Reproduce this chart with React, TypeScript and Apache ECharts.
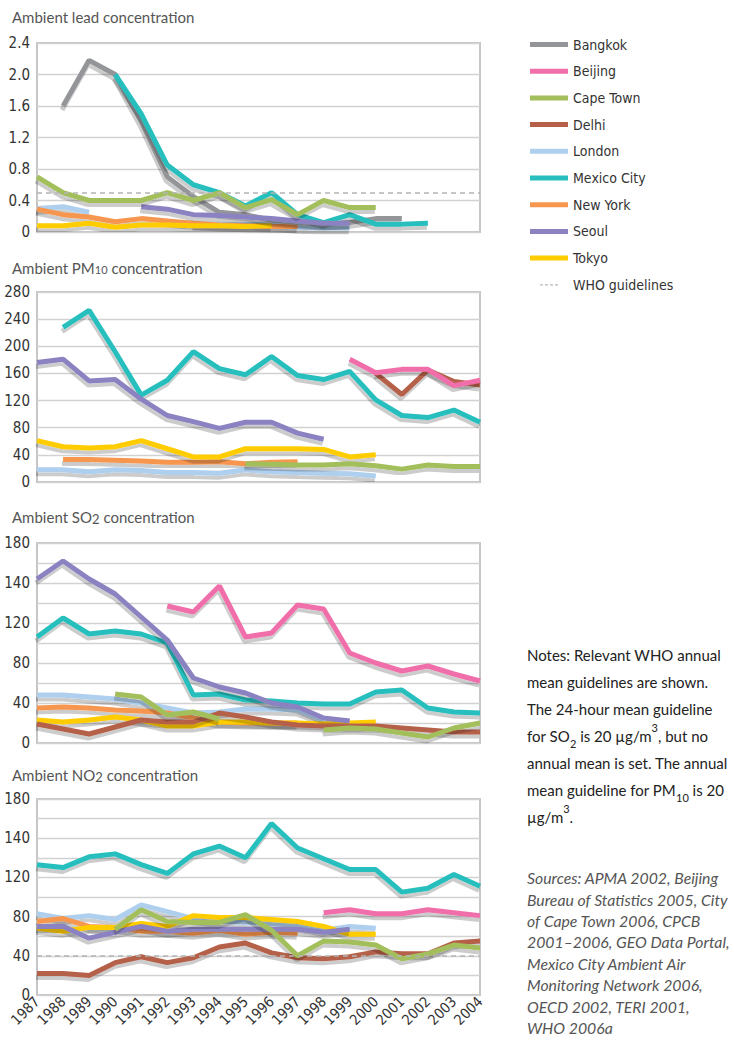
import React, { useEffect, useRef } from "react";
import * as echarts from "echarts";

const years = ["1987","1988","1989","1990","1991","1992","1993","1994","1995","1996","1997","1998","1999","2000","2001","2002","2003","2004"];
const N = null;

const cities = ["Bangkok","Beijing","Cape Town","Delhi","London","Mexico City","New York","Seoul","Tokyo"];
const cityColors: Record<string,string> = {
  "Bangkok": "#939598",
  "Beijing": "#f06ea9",
  "Cape Town": "#a3bf5c",
  "Delhi": "#b5614a",
  "London": "#aecfee",
  "Mexico City": "#26bfbd",
  "New York": "#f7964f",
  "Seoul": "#8b83c1",
  "Tokyo": "#ffcc00",
};
const drawOrder = ["London","New York","Tokyo","Bangkok","Mexico City","Seoul","Delhi","Beijing","Cape Town"];

// Lead (µg/m3)
const leadBangkok = [N,1.6,2.18,2.0,1.4,0.7,0.45,0.25,0.22,0.15,0.12,0.1,0.12,0.17,0.17,N,N,N];
const leadMexico = [N,N,N,2.0,1.5,0.85,0.6,0.5,0.33,0.5,0.22,0.12,0.22,0.1,0.1,0.11,N,N];
const leadCapeTown = [0.7,0.5,0.4,0.4,0.4,0.5,0.4,0.5,0.31,0.41,0.22,0.4,0.31,0.31,N,N,N,N];
const leadLondon = [0.3,0.32,0.25,N,N,N,0.1,0.1,0.1,0.09,0.06,0.05,0.05,N,N,N,N,N];
const leadNewYork = [0.29,0.22,0.19,0.13,0.17,0.14,0.11,0.09,0.08,0.07,0.07,N,N,N,N,N,N,N];
const leadSeoul = [N,N,N,N,0.32,0.29,0.22,0.21,0.19,0.17,0.14,0.11,0.11,N,N,N,N,N];
const leadTokyo = [0.08,0.08,0.11,0.06,0.09,0.09,0.08,0.08,0.07,0.08,N,N,N,N,N,N,N,N];
const leadWHO = 0.5;

// PM10
const pmMexico = [N,228,253,192,128,150,192,167,158,185,157,151,163,121,98,95,106,88];
const pmSeoul = [176,181,149,151,122,98,89,79,88,88,72,63,N,N,N,N,N,N];
const pmBeijing = [N,N,N,N,N,N,N,N,N,N,N,N,181,161,166,166,142,150];
const pmDelhi = [N,N,N,N,N,N,N,N,N,N,N,N,N,160,129,165,148,143];
const pmTokyo = [61,52,50,52,61,49,37,37,49,49,49,48,37,40,N,N,N,N];
const pmNewYork = [N,33,33,32,31,29,29,30,27,29,30,N,N,N,N,N,N,N];
const pmCapeTown = [N,N,N,N,N,N,N,N,27,26,25,25,27,24,19,25,23,23];
const pmLondon = [18,18,15,18,17,14,14,13,18,15,14,13,12,9,N,N,N,N];

// SO2
const so2Seoul = [164,182,164,149,126,103,65,56,50,40,36,25,22,N,N,N,N,N];
const so2Mexico = [106,125,109,112,109,100,48,49,43,42,40,39,39,51,53,35,31,30];
const so2Beijing = [N,N,N,N,N,137,131,157,106,110,138,134,90,80,72,77,69,62];
const so2London = [48,48,46,44,40,35,30,31,34,34,33,23,N,N,N,N,N,N];
const so2CapeTown = [N,N,N,49,46,28,31,24,N,N,N,13,15,14,10,6,15,20];
const so2NewYork = [35,36,35,33,32,30,25,21,20,20,20,N,N,N,N,N,N,N];
const so2Tokyo = [23,21,23,26,23,17,17,21,21,20,20,19,20,21,N,N,N,N];
const so2Delhi = [19,14,9,16,23,21,21,30,26,21,18,17,17,17,15,13,11,11];

// NO2
const no2Mexico = [133,130,141,144,133,124,144,152,140,175,150,139,128,128,105,109,123,111];
const no2Beijing = [N,N,N,N,N,N,N,N,N,N,N,84,87,83,83,87,84,81];
const no2Delhi = [22,22,20,33,39,33,38,49,53,43,38,37,39,44,42,42,53,55];
const no2CapeTown = [N,N,N,67,87,75,74,74,82,66,40,55,54,51,37,42,51,48];
const no2London = [83,78,81,77,92,85,78,75,74,73,71,66,70,68,N,N,N,N];
const no2NewYork = [75,78,70,69,65,65,63,66,62,64,63,N,N,N,N,N,N,N];
const no2Tokyo = [68,65,69,69,73,70,81,79,79,77,75,70,62,62,N,N,N,N];
const no2Seoul = [70,70,58,64,70,65,67,67,67,67,67,64,67,N,N,N,N,N];
const no2WHO = 40;

const FONT_C = '"Liberation Sans Narrow","DejaVu Sans Condensed","Roboto Condensed",sans-serif';
const FONT_T = 'Lato,"Open Sans",sans-serif';

const panels = [
  {
    title: "Ambient lead concentration",
    top: 43, height: 189, max: 2.4, interval: 0.4,
    data: { "Bangkok": leadBangkok, "Mexico City": leadMexico, "Cape Town": leadCapeTown, "London": leadLondon, "New York": leadNewYork, "Seoul": leadSeoul, "Tokyo": leadTokyo } as Record<string, (number|null)[]>,
    who: leadWHO as number | null,
    fmt: (v: number) => (v === 0 ? "0" : v.toFixed(1)),
    titleTop: 9,
  },
  {
    title: "Ambient PM{sub|10} concentration",
    top: 292, height: 190, max: 280, interval: 40,
    data: { "Mexico City": pmMexico, "Seoul": pmSeoul, "Beijing": pmBeijing, "Delhi": pmDelhi, "Tokyo": pmTokyo, "New York": pmNewYork, "Cape Town": pmCapeTown, "London": pmLondon } as Record<string, (number|null)[]>,
    who: null,
    fmt: (v: number) => String(Math.round(v)),
    titleTop: 260,
  },
  {
    title: "Ambient SO{sub2|2} concentration",
    top: 543, height: 200, max: 200, interval: 20,
    data: { "Seoul": so2Seoul, "Mexico City": so2Mexico, "Beijing": so2Beijing, "London": so2London, "Cape Town": so2CapeTown, "New York": so2NewYork, "Tokyo": so2Tokyo, "Delhi": so2Delhi } as Record<string, (number|null)[]>,
    who: null,
    fmt: null as any,
    titleTop: 509,
  },
  {
    title: "Ambient NO{sub2|2} concentration",
    top: 799, height: 196, max: 200, interval: 20,
    data: { "Mexico City": no2Mexico, "Beijing": no2Beijing, "Delhi": no2Delhi, "Cape Town": no2CapeTown, "London": no2London, "New York": no2NewYork, "Tokyo": no2Tokyo, "Seoul": no2Seoul } as Record<string, (number|null)[]>,
    who: no2WHO as number | null,
    fmt: null as any,
    titleTop: 767,
  },
];

const tickLabels20: Record<number, string> = { 0: "0", 40: "40", 80: "80", 120: "120", 160: "140", 200: "180" };

const notesText = [
  "Notes: Relevant WHO annual",
  "mean guidelines are shown.",
  "The 24-hour mean guideline",
  "for SO{sub|2} is 20 µg/m{sup|3}, but no",
  "annual mean is set. The annual",
  "mean guideline for PM{sub|10} is 20",
  "µg/m{sup|3}.",
].join("\n");

const sourcesText = [
  "Sources: APMA 2002, Beijing",
  "Bureau of Statistics 2005, City",
  "of Cape Town 2006, CPCB",
  "2001–2006, GEO Data Portal,",
  "Mexico City Ambient Air",
  "Monitoring Network 2006,",
  "OECD 2002, TERI 2001,",
  "WHO 2006a",
].join("\n");

export default function App() {
  const ref = useRef<HTMLDivElement>(null);
  useEffect(() => {
    if (!ref.current) return;
    const chart = echarts.init(ref.current, undefined, { renderer: "svg" });
    const grids: any[] = [];
    const xAxes: any[] = [];
    const yAxes: any[] = [];
    const series: any[] = [];
    const titles: any[] = [];
    panels.forEach((p, k) => {
      grids.push({
        left: 37, right: 254, top: p.top, height: p.height,
        show: true, borderColor: "#c6c6c6", borderWidth: 2, backgroundColor: "transparent",
      });
      xAxes.push({
        type: "category", gridIndex: k, data: years, boundaryGap: false,
        axisLine: { show: false }, axisTick: { show: false }, splitLine: { show: false },
        axisLabel: k === 3
          ? { show: true, rotate: 45, interval: 0, margin: 4, fontSize: 14.5, color: "#333", fontFamily: FONT_C }
          : { show: false },
      });
      yAxes.push({
        type: "value", gridIndex: k, min: 0, max: p.max, interval: p.interval,
        axisLine: { show: false }, axisTick: { show: false },
        splitLine: { show: true, lineStyle: { color: "#d2d2d2", width: 1.3 } },
        axisLabel: {
          margin: 7, fontSize: 15, color: "#333", fontFamily: FONT_C,
          formatter: p.fmt ? p.fmt : (v: number) => tickLabels20[Math.round(v)] ?? "",
        },
      });
      titles.push({
        text: p.title, left: 12, top: p.titleTop, padding: 0,
        textStyle: {
          fontSize: 15, fontWeight: "normal", color: "#555", fontFamily: FONT_T,
          rich: {
            sub: { fontSize: 11, color: "#555", fontFamily: FONT_T, verticalAlign: "bottom", lineHeight: 14, padding: [6, 0, 0, 0] },
            sub2: { fontSize: 13, color: "#555", fontFamily: FONT_T, verticalAlign: "bottom", lineHeight: 16, padding: [3, 0, 0, 0] },
          },
        },
      });
      drawOrder.forEach((name) => {
        const d = p.data[name];
        if (!d) return;
        series.push({
          type: "line", name, xAxisIndex: k, yAxisIndex: k, data: d,
          showSymbol: false, symbol: "none", connectNulls: false,
          color: cityColors[name],
          itemStyle: { color: cityColors[name] },
          lineStyle: {
            width: 5, color: cityColors[name],
            shadowColor: "rgba(0,0,0,0.2)", shadowBlur: 1.5, shadowOffsetX: -1, shadowOffsetY: 4,
          },
          z: 3,
        });
      });
      if (p.who !== null) {
        series.push({
          type: "line", name: "WHO guidelines", xAxisIndex: k, yAxisIndex: k, data: [],
          color: "#b8b8b8", itemStyle: { color: "#b8b8b8" },
          lineStyle: { color: "#b8b8b8" },
          markLine: {
            silent: true, symbol: "none", label: { show: false },
            lineStyle: { color: "#b4b4b4", width: 1.5, type: [5, 4] },
            data: [{ yAxis: p.who }],
          },
          z: 2,
        });
      }
    });

    const legendData: any[] = cities.map((c) => ({ name: c, icon: "rect" }));
    legendData.push({
      name: "WHO guidelines",
      icon: "path://M0 0M0 10M0 4H6V6.5H0ZM10 4H16V6.5H10ZM20 4H26V6.5H20ZM30 4H36V6.5H30Z",
    });

    chart.setOption({
      animation: false,
      backgroundColor: "#ffffff",
      title: titles,
      legend: {
        orient: "vertical", left: 525, top: 31, itemWidth: 38, itemHeight: 5, itemGap: 9.7,
        selectedMode: false, data: legendData,
        textStyle: { fontSize: 14, lineHeight: 17, color: "#333", fontFamily: FONT_C },
      },
      grid: grids,
      xAxis: xAxes,
      yAxis: yAxes,
      series,
      graphic: [
        {
          type: "text", left: 527, top: 641,
          style: {
            text: notesText, fontSize: 15, lineHeight: 27, fill: "#222", fontFamily: FONT_T,
            rich: {
              sub: { fontSize: 11, lineHeight: 24, verticalAlign: "bottom", fill: "#222", fontFamily: FONT_T },
              sup: { fontSize: 11, lineHeight: 25, verticalAlign: "top", fill: "#222", fontFamily: FONT_T },
            },
          },
        },
        {
          type: "text", left: 527, top: 867,
          style: {
            text: sourcesText, fontSize: 15.8, lineHeight: 21.4, fill: "#555", fontFamily: FONT_T, fontStyle: "italic",
          },
        },
      ],
    });
    return () => chart.dispose();
  }, []);
  return <div ref={ref} style={{ position: "absolute", left: 0, top: 0, width: 734, height: 1044 }} />;
}
